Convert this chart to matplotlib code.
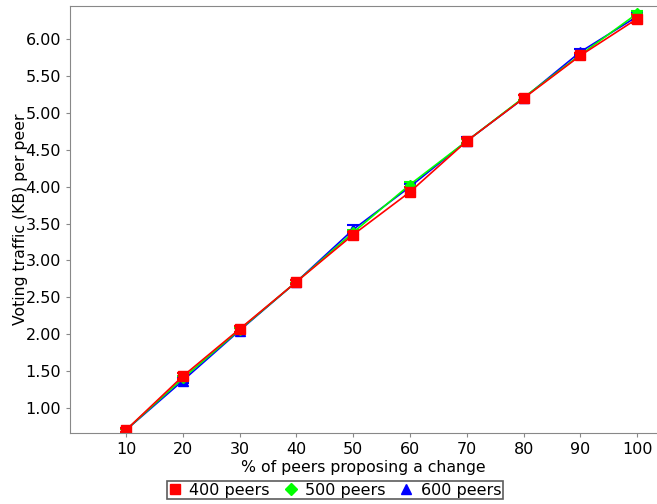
import matplotlib
matplotlib.use("Agg")
import matplotlib.pyplot as plt
from matplotlib.lines import Line2D

x = [10, 20, 30, 40, 50, 60, 70, 80, 90, 100]
peers400 = [0.70, 1.43, 2.07, 2.71, 3.35, 3.93, 4.62, 5.20, 5.78, 6.28]
peers500 = [0.70, 1.40, 2.06, 2.71, 3.38, 4.03, 4.62, 5.21, 5.79, 6.35]
peers600 = [0.70, 1.37, 2.05, 2.71, 3.42, 4.00, 4.62, 5.20, 5.83, 6.31]
err400 = [0.03, 0.04, 0.04, 0.03, 0.04, 0.06, 0.04, 0.04, 0.04, 0.06]
err500 = [0.02, 0.03, 0.03, 0.02, 0.03, 0.04, 0.03, 0.03, 0.03, 0.04]
err600 = [0.03, 0.03, 0.04, 0.03, 0.06, 0.04, 0.06, 0.04, 0.04, 0.05]
yticks = [1.0, 1.5, 2.0, 2.5, 3.0, 3.5, 4.0, 4.5, 5.0, 5.5, 6.0]

plt.rcParams['font.family'] = ['DejaVu Sans']
fig = plt.figure(figsize=(6.57, 5.04), dpi=100)
ax = fig.add_axes([0.1065, 0.1409, 0.892, 0.847])

series = [
    (peers600, err600, '#0000ff', '^', '600 peers'),
    (peers500, err500, '#00ff00', 'D', '500 peers'),
    (peers400, err400, '#ff0000', 's', '400 peers'),
]
for ys, es, c, m, lab in series:
    ax.errorbar(x, ys, yerr=es, color=c, marker=m, markersize=6.5 if m != 'D' else 5,
                linewidth=1.2, capsize=4, capthick=1.5, elinewidth=1.2)

ax.set_xlim(0.14, 103.3)
ax.set_ylim(0.66, 6.45)
ax.set_xticks(x)
ax.set_yticks(yticks)
ax.set_yticklabels([f"{v:.2f}" for v in yticks])
ax.tick_params(labelsize=11.5, length=3, color='#888888', direction='out')
for s in ['left', 'bottom', 'top']:
    ax.spines[s].set_color('#888888')
ax.spines['right'].set_visible(False)
ax.set_xlabel('% of peers proposing a change', fontsize=11.3, labelpad=2)
ax.set_ylabel('Voting traffic (KB) per peer', fontsize=11.3, labelpad=-2)

handles = [
    Line2D([], [], color='#ff0000', marker='s', linestyle='none', markersize=7),
    Line2D([], [], color='#00ff00', marker='D', linestyle='none', markersize=6),
    Line2D([], [], color='#0000ff', marker='^', linestyle='none', markersize=7),
]
leg = fig.legend(handles, ['400 peers', '500 peers', '600 peers'], ncol=3,
                 loc='center', bbox_to_anchor=(335/657, 1 - 490/504),
                 fontsize=11.5, frameon=True, fancybox=False,
                 handlelength=0.8, handletextpad=0.5, columnspacing=0.9,
                 borderpad=0.12, borderaxespad=0)
leg.get_frame().set_edgecolor('#333333')
leg.get_frame().set_linewidth(1.2)

fig.savefig('out.png', dpi=100)
